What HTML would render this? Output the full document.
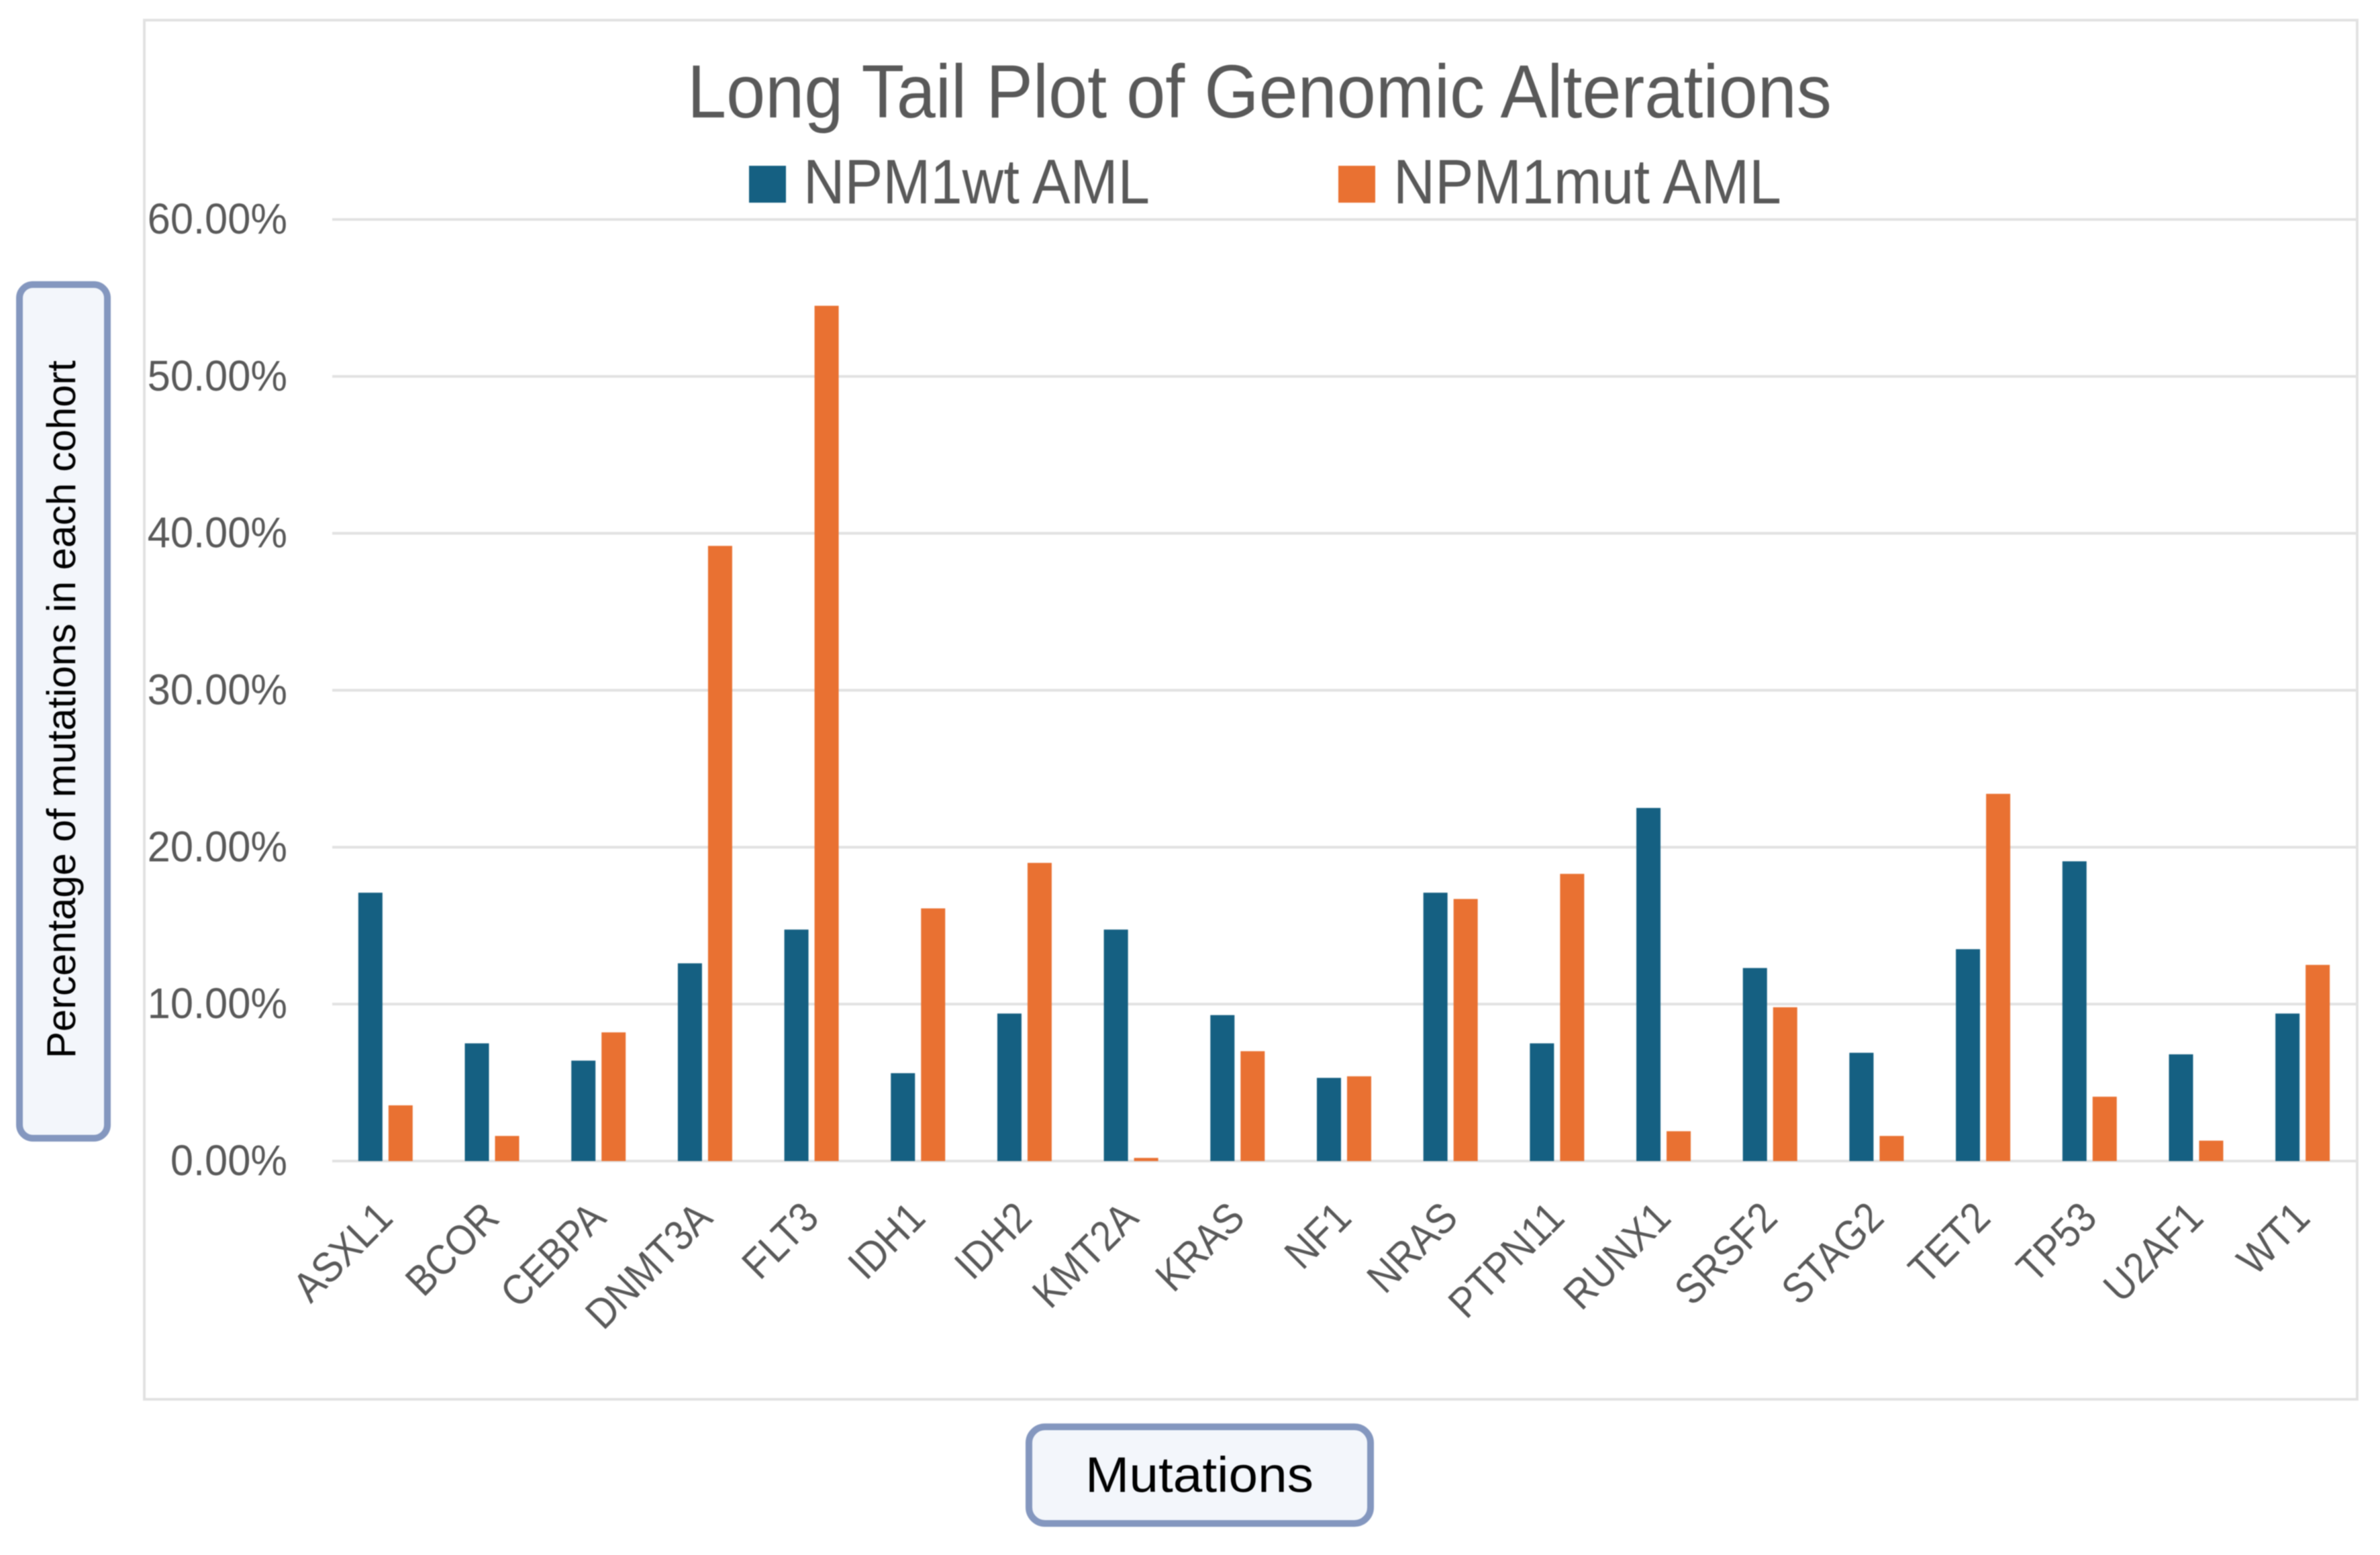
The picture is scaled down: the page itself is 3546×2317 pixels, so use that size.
<!DOCTYPE html>
<html lang="en">
<head>
<meta charset="utf-8">
<title>Long Tail Plot of Genomic Alterations</title>
<style>
html,body{margin:0;padding:0;background:#fff;width:3546px;height:2317px;overflow:hidden}
svg{display:block;font-family:"Liberation Sans",sans-serif;filter:blur(0.8px)}
</style>
</head>
<body>
<svg id="chart" xmlns="http://www.w3.org/2000/svg" width="3546" height="2317" viewBox="0 0 3546 2317">
  <rect x="0" y="0" width="3546" height="2317" fill="#ffffff"/>
  <rect x="215" y="30" width="3297" height="2055" fill="#ffffff" stroke="#e2e2e2" stroke-width="4"/>
  <text x="1024" y="175" font-size="112" fill="#595959" textLength="1705" lengthAdjust="spacingAndGlyphs">Long Tail Plot of Genomic Alterations</text>
  <g>
    <rect x="1116" y="247" width="55" height="55" fill="#156082"/>
    <text x="1197" y="303" font-size="94" fill="#595959" textLength="516" lengthAdjust="spacingAndGlyphs">NPM1wt AML</text>
    <rect x="1994" y="247" width="55" height="55" fill="#E97132"/>
    <text x="2076" y="303" font-size="94" fill="#595959" textLength="578" lengthAdjust="spacingAndGlyphs">NPM1mut AML</text>
  </g>
  <g id="grid"></g>
  <g id="yticks"></g>
  <g id="bars"></g>
  <g id="xticks"></g>
  <g>
    <rect x="29" y="424" width="131" height="1272" rx="20" ry="20" fill="#f3f6fb" stroke="#8497bf" stroke-width="10"/>
    <text transform="translate(112,1577) rotate(-90)" x="0" y="0" font-size="60" fill="#000000" textLength="1040" lengthAdjust="spacingAndGlyphs">Percentage of mutations in each cohort</text>
  </g>
  <g>
    <rect x="1533" y="2126" width="509" height="144" rx="24" ry="24" fill="#f3f6fb" stroke="#8497bf" stroke-width="10"/>
    <text x="1617" y="2223" font-size="74" fill="#000000" textLength="340" lengthAdjust="spacingAndGlyphs">Mutations</text>
  </g>
</svg>
<script>
const categories = ["ASXL1","BCOR","CEBPA","DNMT3A","FLT3","IDH1","IDH2","KMT2A","KRAS","NF1","NRAS","PTPN11","RUNX1","SRSF2","STAG2","TET2","TP53","U2AF1","WT1"];
const npm1wtValues = [17.1,7.5,6.4,12.6,14.75,5.6,9.4,14.75,9.3,5.3,17.1,7.5,22.5,12.3,6.9,13.5,19.1,6.8,9.4];
const npm1mutValues = [3.55,1.6,8.2,39.2,54.5,16.1,19.0,0.2,7.0,5.4,16.7,18.3,1.9,9.8,1.6,23.4,4.1,1.3,12.5];
const yTickValues = [0,10,20,30,40,50,60];
const yTickLabels = ["0.00%","10.00%","20.00%","30.00%","40.00%","50.00%","60.00%"];

const NS = "http://www.w3.org/2000/svg";
const plotLeft = 495, plotRight = 3510, plotBottom = 1730, plotTop = 327, yMax = 60;
const barWidth = 36, barGap = 9;
const GRID = "#e2e2e2", TEXT = "#595959";

function yScale(v){ return plotBottom - (v / yMax) * (plotBottom - plotTop); }
function xCenter(i){ return plotLeft + (i + 0.5) * (plotRight - plotLeft) / categories.length; }

const gridGroup = document.getElementById("grid");
const yTickGroup = document.getElementById("yticks");
const barGroup = document.getElementById("bars");
const xTickGroup = document.getElementById("xticks");

yTickValues.forEach(function(v, i){
  const line = document.createElementNS(NS, "line");
  
  
  line.setAttribute("x1", plotLeft);
  line.setAttribute("x2", 3512);
  line.setAttribute("y1", yScale(v));
  line.setAttribute("y2", yScale(v));
  line.setAttribute("stroke", GRID);
  line.setAttribute("stroke-width", 4);
  gridGroup.appendChild(line);

  const label = document.createElementNS(NS, "text");
  
  
  label.setAttribute("transform", "translate(428," + (yScale(v) + 21) + ") scale(0.96,1)");
  label.setAttribute("text-anchor", "end");
  label.setAttribute("font-size", 64);
  label.setAttribute("fill", TEXT);
  label.textContent = yTickLabels[i];
  yTickGroup.appendChild(label);
});

function drawBar(value, x, color, name){
  const r = document.createElementNS(NS, "rect");
  
  
  r.setAttribute("x", x);
  r.setAttribute("y", yScale(value));
  r.setAttribute("width", barWidth);
  r.setAttribute("height", plotBottom - yScale(value));
  r.setAttribute("fill", color);
  barGroup.appendChild(r);
}

categories.forEach(function(cat, i){
  const c = xCenter(i);
  drawBar(npm1wtValues[i], c - barGap / 2 - barWidth, "#156082", "bar-npm1wt-" + cat.toLowerCase());
  drawBar(npm1mutValues[i], c + barGap / 2, "#E97132", "bar-npm1mut-" + cat.toLowerCase());

  const t = document.createElementNS(NS, "text");
  
  
  t.setAttribute("transform", "translate(" + (c + 14) + ",1818) rotate(-45) scale(0.95,1.05)");
  t.setAttribute("text-anchor", "end");
  t.setAttribute("font-size", 60);
  t.setAttribute("fill", TEXT);
  t.textContent = cat;
  xTickGroup.appendChild(t);
});
</script>
</body>
</html>
